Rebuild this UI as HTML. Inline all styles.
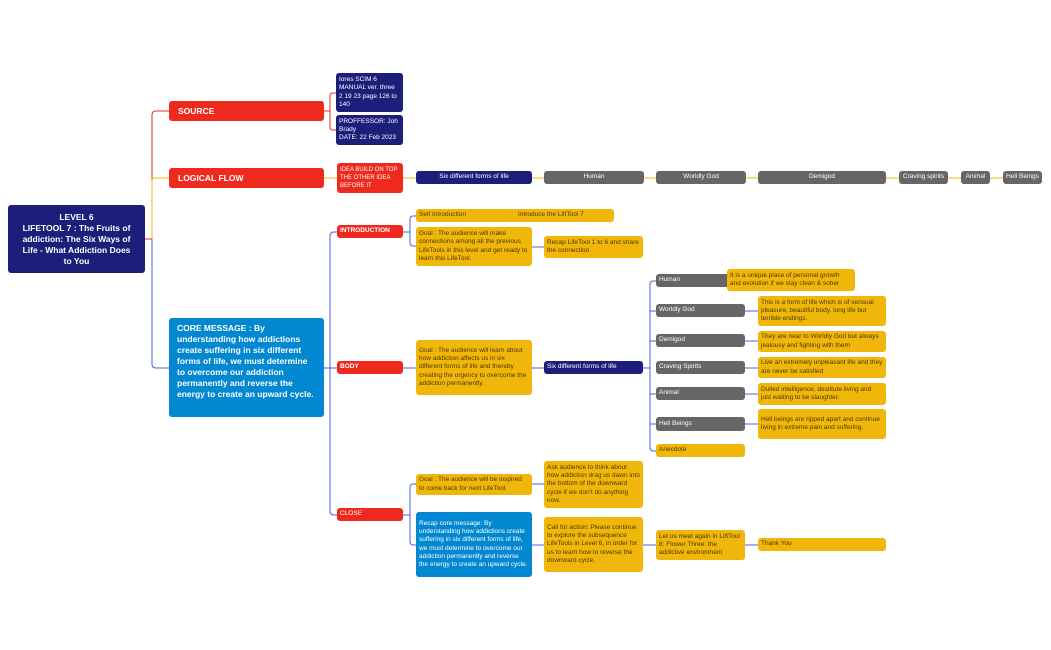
<!DOCTYPE html>
<html><head><meta charset="utf-8"><style>
body{margin:0;width:1051px;height:650px;background:#fff;position:relative;overflow:hidden;font-family:"Liberation Sans",sans-serif}
.b{position:absolute;box-sizing:border-box;border-radius:3px;font-size:6.5px;line-height:8.3px;padding:1px 3px;color:#333;display:flex;flex-direction:column;justify-content:center}
.n{background:#1b1f7a;color:#fff}
.r{background:#ee2a1e;color:#fff}
.y{background:#f0b70a;color:#4a3a00}
.g{background:#666;color:#fff}
.c{background:#0288d1;color:#fff}
.big{font-weight:bold;font-size:8.5px;line-height:11px;padding:6px 9px}
.ctr{text-align:center;align-items:center}
svg{position:absolute;left:0;top:0}
</style></head><body>
<svg width="1051" height="650" fill="none" stroke-width="1">
<path d="M145 239 H152 V115 Q152 111 156 111 H169" stroke="#ee2a1e"/>
<path d="M152 239 V180 Q152 178 156 178 H169" stroke="#f0b70a"/>
<path d="M152 239 V364 Q152 368 156 368 H169" stroke="#4a5fe0"/>
<path d="M324 111 H330 M330 111 V96 Q330 93 333 93 H336 M330 111 V127 Q330 130 333 130 H336" stroke="#ee2a1e"/>
<path d="M324 178 H337 M403 178 H1003" stroke="#f0b70a"/>
<path d="M324 368 H330 M330 368 V236 Q330 232 334 232 H337 M330 368 V511 Q330 515 334 515 H337 M330 368 H337" stroke="#4a5fe0"/>
<path d="M403 232 H410 M410 232 V219 Q410 216 413 216 H416 M410 232 V242 Q410 246 413 246 H416 M532 247 H544" stroke="#4a5fe0"/>
<path d="M403 368 H416 M532 368 H544 M643 368 H650 M650 368 V285 Q650 281 653 281 H656 M650 311 H656 M650 341 H656 M650 394 H656 M650 424 H656 M650 368 V447 Q650 451 653 451 H656 M745 311 H758 M745 341 H758 M745 368 H758 M745 394 H758 M745 424 H758" stroke="#4a5fe0"/>
<path d="M403 515 H410 M410 515 V488 Q410 484 413 484 H416 M410 515 V541 Q410 545 413 545 H416 M532 484 H544 M532 545 H544 M643 545 H656 M745 545 H758" stroke="#4a5fe0"/>
</svg>

<div class="b n big ctr" style="left:8px;top:205px;width:137px;height:68px;padding:4px 10px">LEVEL 6<br>LIFETOOL 7 : The Fruits of addiction: The Six Ways of Life - What Addiction Does to You</div>

<div class="b r big" style="left:169px;top:101px;width:155px;height:20px">SOURCE</div>
<div class="b n" style="left:336px;top:73px;width:67px;height:39px">Iores SCIM 6 MANUAL ver. three 2 19 23 page 126 to 140</div>
<div class="b n" style="left:336px;top:115px;width:67px;height:30px">PROFFESSOR: Joh Brady<br>DATE: 22 Feb 2023</div>

<div class="b r big" style="left:169px;top:168px;width:155px;height:20px">LOGICAL FLOW</div>
<div class="b r" style="left:337px;top:163px;width:66px;height:30px;font-size:6px">IDEA BUILD ON TOP THE OTHER IDEA BEFORE IT</div>
<div class="b n ctr" style="left:416px;top:171px;width:116px;height:13px">Six different forms of life</div>
<div class="b g ctr" style="left:544px;top:171px;width:100px;height:13px">Human</div>
<div class="b g ctr" style="left:656px;top:171px;width:90px;height:13px">Worldly God</div>
<div class="b g ctr" style="left:758px;top:171px;width:128px;height:13px">Demigod</div>
<div class="b g ctr" style="left:899px;top:171px;width:49px;height:13px;padding:0">Craving spirits</div>
<div class="b g ctr" style="left:961px;top:171px;width:29px;height:13px;padding:0">Animal</div>
<div class="b g ctr" style="left:1003px;top:171px;width:39px;height:13px;padding:0">Hell Beings</div>

<div class="b c big" style="left:169px;top:318px;width:155px;height:99px;padding:5px 8px;justify-content:flex-start">CORE MESSAGE : By understanding how addictions create suffering in six different forms of life, we must determine to overcome our addiction permanently and reverse the energy to create an upward cycle.</div>

<div class="b r" style="left:337px;top:225px;width:66px;height:13px;font-weight:bold">INTRODUCTION</div>
<div class="b y" style="left:416px;top:209px;width:198px;height:13px">Self Introduction<span style="position:absolute;left:102px;top:2px">Introduce the LiftTool 7</span></div>
<div class="b y" style="left:416px;top:227px;width:116px;height:39px">Goal : The audience will make connections among all the previous LifeTools in this level and get ready to learn this LifeTool.</div>
<div class="b y" style="left:544px;top:236px;width:99px;height:22px">Recap LifeTool 1 to 6 and share the connection</div>

<div class="b r" style="left:337px;top:361px;width:66px;height:13px;font-weight:bold">BODY</div>
<div class="b y" style="left:416px;top:340px;width:116px;height:55px">Goal : The audience will learn about how addiction affects us in six different forms of life and thereby creating the urgency to overcome the addiction permanently.</div>
<div class="b n" style="left:544px;top:361px;width:99px;height:13px">Six different forms of life</div>

<div class="b g" style="left:656px;top:274px;width:89px;height:13px">Human</div>
<div class="b y" style="left:727px;top:269px;width:128px;height:22px">It is a unique place of personal growth and evolution if we stay clean &amp; sober</div>
<div class="b g" style="left:656px;top:304px;width:89px;height:13px">Worldly God</div>
<div class="b y" style="left:758px;top:296px;width:128px;height:30px">This is a form of life which is of sensual pleasure, beautiful body, long life but terrible endings.</div>
<div class="b g" style="left:656px;top:334px;width:89px;height:13px">Demigod</div>
<div class="b y" style="left:758px;top:331px;width:128px;height:21px">They are near to Worldly God but always jealousy and fighting with them</div>
<div class="b g" style="left:656px;top:361px;width:89px;height:13px">Craving Spirits</div>
<div class="b y" style="left:758px;top:357px;width:128px;height:21px">Live an extremely unpleasant life and they are never be satisfied</div>
<div class="b g" style="left:656px;top:387px;width:89px;height:13px">Animal</div>
<div class="b y" style="left:758px;top:383px;width:128px;height:22px">Dulled intelligence, destitute living and just waiting to be slaughter.</div>
<div class="b g" style="left:656px;top:417px;width:89px;height:14px">Hell Beings</div>
<div class="b y" style="left:758px;top:409px;width:128px;height:30px">Hell beings are ripped apart and continue living in extreme pain and suffering.</div>
<div class="b y" style="left:656px;top:444px;width:89px;height:13px">Anecdote</div>

<div class="b r" style="left:337px;top:508px;width:66px;height:13px">CLOSE</div>
<div class="b y" style="left:416px;top:474px;width:116px;height:21px">Goal : The audience will be inspired to come back for next LifeTool.</div>
<div class="b c" style="left:416px;top:512px;width:116px;height:65px">Recap core message: By understanding how addictions create suffering in six different forms of life, we must determine to overcome our addiction permanently and reverse the energy to create an upward cycle.</div>
<div class="b y" style="left:544px;top:461px;width:99px;height:47px">Ask audience to think about how addiction drag us dawn into the bottom of the downward cycle if we don't do anything now.</div>
<div class="b y" style="left:544px;top:517px;width:99px;height:55px">Call for action: Please continue to explore the subsequence LifeTools in Level 6, in order for us to learn how to reverse the downward cycle.</div>
<div class="b y" style="left:656px;top:530px;width:89px;height:30px">Let us meet again in LiftTool 8: Flower Three: the addictive environment</div>
<div class="b y" style="left:758px;top:538px;width:128px;height:13px">Thank You</div>
</body></html>
